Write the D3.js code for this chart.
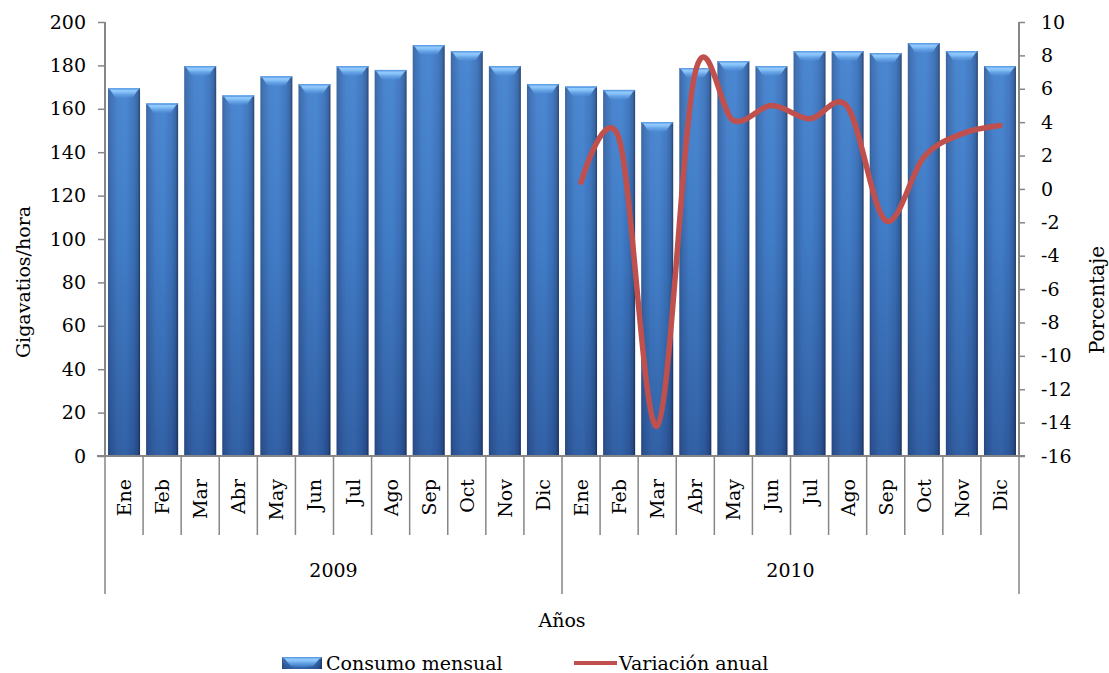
<!DOCTYPE html>
<html><head><meta charset="utf-8">
<script src="https://cdn.jsdelivr.net/npm/d3@7"></script>
<style>
body{margin:0;background:#fff;}
text{font-family:"DejaVu Serif",serif;fill:#000;}
</style></head>
<body><svg id="c" width="1109" height="673"></svg>
<script>
const months = ["Ene","Feb","Mar","Abr","May","Jun","Jul","Ago","Sep","Oct","Nov","Dic"];
const years = ["2009","2010"];
const consumo2009 = [169.5,162.5,179.7,166.2,175,171.4,179.7,177.9,189.4,186.6,179.7,171.4];
const consumo2010 = [170.3,168.7,153.9,178.8,182,179.7,186.6,186.6,185.7,190.3,186.6,179.7];
const variacion2010 = [0.4,3.0,-14.2,7.0,4.1,5.0,4.2,4.9,-1.9,1.9,3.3,3.8];
const leftTicks = [0,20,40,60,80,100,120,140,160,180,200];
const rightTicks = [-16,-14,-12,-10,-8,-6,-4,-2,0,2,4,6,8,10];
const seriesNames = ["Consumo mensual","Variación anual"];
const axisTitles = {left:"Gigavatios/hora", right:"Porcentaje", x:"Años"};

const svg = d3.select("#c");
const L = 105, R = 1019, T = 22, B = 456;
const FS = 19;
const gray = "#868686";

const cats = [];
years.forEach((y,yi)=>months.forEach((m,mi)=>cats.push({key:y+"-"+m, m, y, v:(yi===0?consumo2009:consumo2010)[mi]})));
const x = d3.scaleBand().domain(cats.map(d=>d.key)).range([L,R]).paddingInner(0.16).paddingOuter(0.08);
const yL = d3.scaleLinear().domain([0,200]).range([B,T]);
const yR = d3.scaleLinear().domain([-16,10]).range([B,T]);

// defs
const defs = svg.append("defs");
const gh = defs.append("linearGradient").attr("id","gh").attr("x1",0).attr("x2",1).attr("y1",0).attr("y2",0);
[[0,"#335e98"],[0.07,"#3a6cb0"],[0.3,"#4380cc"],[0.55,"#4483d0"],[0.8,"#3c74bd"],[0.93,"#3262a3"],[1,"#213c66"]]
  .forEach(s=>gh.append("stop").attr("offset",s[0]).attr("stop-color",s[1]));
const gv = defs.append("linearGradient").attr("id","gv").attr("x1",0).attr("x2",0).attr("y1",0).attr("y2",1);
[[0,"#ffffff",0.04],[0.45,"#000020",0.05],[1,"#000030",0.26]]
  .forEach(s=>gv.append("stop").attr("offset",s[0]).attr("stop-color",s[1]).attr("stop-opacity",s[2]));
const gc = defs.append("linearGradient").attr("id","gc").attr("x1",0).attr("x2",0).attr("y1",0).attr("y2",1);
[[0,"#a6d6ff",1],[0.4,"#84c0f8",1],[1,"#4a8ad6",0.5]]
  .forEach(s=>gc.append("stop").attr("offset",s[0]).attr("stop-color",s[1]).attr("stop-opacity",s[2]));

function drawBar(g, bx, by, bw, bh){
  g.append("rect").attr("x",bx).attr("y",by).attr("width",bw).attr("height",bh).attr("fill","url(#gh)");
  g.append("rect").attr("x",bx).attr("y",by).attr("width",bw).attr("height",bh).attr("fill","url(#gv)");
  const capH = Math.min(9,bh);
  g.append("path")
    .attr("d",`M${bx+1},${by} L${bx+bw-1},${by} L${bx+bw*0.78},${by+capH} Q${bx+bw/2},${by+capH+2} ${bx+bw*0.22},${by+capH} Z`)
    .attr("fill","url(#gc)");
  g.append("rect").attr("x",bx+0.5).attr("y",by).attr("width",bw-1).attr("height",1.5).attr("fill","#5d9ee6");
}

// bars
const gb = svg.append("g");
cats.forEach(d=>{
  drawBar(gb, x(d.key), yL(d.v), x.bandwidth(), yL(0)-yL(d.v));
});

// axes
const axL = svg.append("g").attr("transform",`translate(${L},0)`)
  .call(d3.axisLeft(yL).tickValues(leftTicks).tickSize(7).tickPadding(12));
const axR = svg.append("g").attr("transform",`translate(${R},0)`)
  .call(d3.axisRight(yR).tickValues(rightTicks).tickSize(6).tickPadding(16).tickFormat(d=>d));
[axL,axR].forEach(a=>{
  a.select(".domain").attr("stroke",gray).attr("stroke-width",2).attr("d",`M0,${T}V${B}`);
  a.selectAll(".tick line").attr("stroke",gray).attr("stroke-width",1.5);
  a.selectAll(".tick text").attr("font-size",FS).attr("font-family","DejaVu Serif").attr("fill","#000");
});
axR.selectAll(".tick text").text(d=>d<0? "-"+Math.abs(d) : d);

// x axis line
svg.append("line").attr("x1",L-8).attr("x2",R+6).attr("y1",B).attr("y2",B).attr("stroke",gray).attr("stroke-width",2);

// category separators
const edges = d3.range(cats.length+1).map(i=> L + (R-L)*i/cats.length);
edges.forEach((ex,i)=>{
  const long = (i%12===0);
  svg.append("line").attr("x1",ex).attr("x2",ex).attr("y1",B).attr("y2",long?594:535)
    .attr("stroke",gray).attr("stroke-width",1.5);
});

// month labels
cats.forEach(d=>{
  const cx = x(d.key)+x.bandwidth()/2;
  svg.append("text").attr("transform",`translate(${cx},479) rotate(-90)`)
    .attr("text-anchor","end").attr("dominant-baseline","central").attr("font-size",FS).text(d.m);
});
// year labels
years.forEach((y,yi)=>{
  const cx = L + (R-L)*(yi*12+6)/cats.length;
  svg.append("text").attr("x",cx).attr("y",570).attr("text-anchor","middle").attr("dominant-baseline","central").attr("font-size",FS).text(y);
});

// axis titles
svg.append("text").attr("transform",`translate(23,282) rotate(-90)`).attr("text-anchor","middle")
  .attr("dominant-baseline","central").attr("font-size",FS).text(axisTitles.left);
svg.append("text").attr("transform",`translate(1097,300) rotate(-90)`).attr("text-anchor","middle")
  .attr("dominant-baseline","central").attr("font-size",FS+1).text(axisTitles.right);
svg.append("text").attr("x",562).attr("y",620).attr("text-anchor","middle")
  .attr("dominant-baseline","central").attr("font-size",FS).text(axisTitles.x);

// line
const lineData = months.map((m,i)=>({key:"2010-"+m, v:variacion2010[i]}));
const line = d3.line().x(d=>x(d.key)+x.bandwidth()/2).y(d=>yR(d.v)).curve(d3.curveCatmullRom.alpha(0));
svg.append("path").datum(lineData).attr("d",line).attr("fill","none")
  .attr("stroke","#c0504d").attr("stroke-width",5.5).attr("stroke-linecap","round").attr("stroke-linejoin","round");

// legend
const lg = svg.append("g");
drawBar(lg, 282, 657, 40, 12);
lg.append("text").attr("x",326).attr("y",663).attr("dominant-baseline","central").attr("font-size",FS).text(seriesNames[0]);
lg.append("line").attr("x1",574).attr("x2",617).attr("y1",663).attr("y2",663).attr("stroke","#c0504d").attr("stroke-width",4);
lg.append("text").attr("x",619).attr("y",663).attr("dominant-baseline","central").attr("font-size",FS).text(seriesNames[1]);
</script></body></html>
